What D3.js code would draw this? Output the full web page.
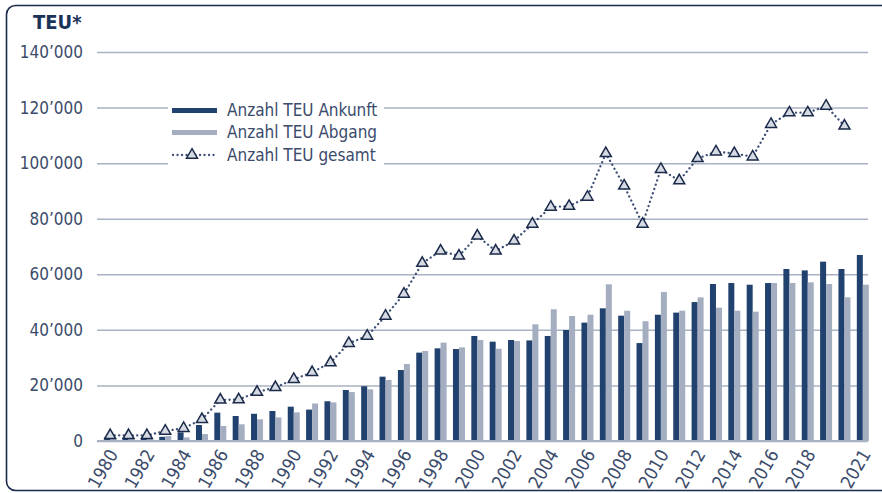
<!DOCTYPE html>
<html><head><meta charset="utf-8">
<script src="https://cdn.jsdelivr.net/npm/d3@7"></script>
<style>
html,body{margin:0;padding:0;background:#fff;}
svg{display:block;}
text{font-family:"DejaVu Sans Condensed","Liberation Sans Narrow",sans-serif;}
</style></head>
<body>
<svg id="chart" width="882" height="493"></svg>
<script>
const years = d3.range(1980, 2022);
const ankunft = [1300,1300,1300,1500,3100,5750,10200,9000,9800,10800,12350,11300,14300,18350,19700,23150,25550,31800,33350,33100,37800,35750,36350,36200,37800,39950,42600,47750,45100,35250,45450,46200,50000,56500,56850,56250,56850,61900,61400,64550,61900,66950];
const abgang = [1300,1300,1300,1800,1300,2500,5400,6000,7800,8500,10300,13500,13900,17600,18600,21950,27700,32400,35400,33700,36350,33200,36000,42000,47400,45000,45450,56400,46900,43100,53600,46900,51700,48000,46900,46550,56850,56850,57100,56500,51700,56250];
const gesamt = [2000,2000,2000,3600,4600,7800,14800,14900,17600,19300,22200,24700,28200,35150,37800,45000,52900,64000,68400,66600,73800,68400,72000,78100,84200,84500,87800,103500,91800,78100,97800,93700,101700,104100,103500,102300,114000,118150,118150,120550,113400,null];
const yTicks = [0,20000,40000,60000,80000,100000,120000,140000];
const xTickYears = [1980,1982,1984,1986,1988,1990,1992,1994,1996,1998,2000,2002,2004,2006,2008,2010,2012,2014,2016,2018,2021];
const seriesNames = ["Anzahl TEU Ankunft","Anzahl TEU Abgang","Anzahl TEU gesamt"];

const C_DARK = "#21426e", C_LIGHT = "#a4aec0", C_TEXT = "#3b4b6b", C_GRID = "#a9b2c2", C_NAVY = "#1b2a4a";

const svg = d3.select("#chart");

// frame
svg.append("rect").attr("x",6.5).attr("y",5.5).attr("width",900).attr("height",485)
  .attr("rx",9).attr("fill","none").attr("stroke",C_NAVY).attr("stroke-width",1.6);

const gridL = 97, gridR = 868;
const y = d3.scaleLinear().domain([0,140000]).range([441,52]);
const x = d3.scaleBand().domain(years).range([101,872]).padding(0);
const bw = x.bandwidth();
const cx = yr => x(yr) + bw/2;

// y axis + grid
const yAxis = svg.append("g").attr("transform",`translate(${gridL},0)`)
  .call(d3.axisLeft(y).tickValues(yTicks).tickSize(-(gridR-gridL)).tickPadding(14)
    .tickFormat(d => d === 0 ? "0" : d3.format(",")(d).replace(/,/g,"’")));
yAxis.select(".domain").remove();
yAxis.selectAll(".tick line").attr("stroke",C_GRID).attr("stroke-width",1.5);
yAxis.selectAll(".tick text").attr("fill",C_TEXT).attr("font-size",17);

// title
svg.append("text").attr("x",33).attr("y",29).text("TEU*")
  .attr("font-size",20).attr("font-weight","bold").attr("fill","#1c3358");

// bars
const gBars = svg.append("g");
gBars.selectAll("rect.a").data(years).join("rect").attr("class","a")
  .attr("x", (d) => cx(d) - 6).attr("width",6)
  .attr("y", (d,i) => y(ankunft[i])).attr("height",(d,i)=> y(0)-y(ankunft[i]))
  .attr("fill",C_DARK);
gBars.selectAll("rect.b").data(years).join("rect").attr("class","b")
  .attr("x", (d) => cx(d)).attr("width",6)
  .attr("y", (d,i) => y(abgang[i])).attr("height",(d,i)=> y(0)-y(abgang[i]))
  .attr("fill",C_LIGHT);

// baseline
svg.append("line").attr("x1",gridL).attr("x2",gridR).attr("y1",y(0)).attr("y2",y(0))
  .attr("stroke",C_GRID).attr("stroke-width",2);

// x axis
const xAxis = svg.append("g").attr("transform",`translate(0,${y(0)})`)
  .call(d3.axisBottom(x).tickValues(xTickYears).tickSize(0));
xAxis.select(".domain").remove();
xAxis.selectAll(".tick text").attr("fill",C_TEXT).attr("font-size",18)
  .attr("x",0).attr("y",0).attr("dy","0.35em").attr("text-anchor","end")
  .attr("transform","translate(3,10) rotate(-60)");

// total line
const pts = years.map((yr,i)=>({yr, v:gesamt[i]})).filter(d=>d.v!=null);
const line = d3.line().x(d=>cx(d.yr)).y(d=>y(d.v));
svg.append("path").datum(pts).attr("d",line).attr("fill","none")
  .attr("stroke","#3e5078").attr("stroke-width",2.3).attr("stroke-linecap","round")
  .attr("stroke-dasharray","0.1 4.4");
const tri = d3.symbol().type(d3.symbolTriangle).size(52);
svg.selectAll("path.m").data(pts).join("path").attr("class","m")
  .attr("d",tri).attr("transform",d=>`translate(${cx(d.yr)},${y(d.v)})`)
  .attr("fill","#d6dbe3").attr("stroke",C_NAVY).attr("stroke-width",1.5);

// legend
const lg = svg.append("g");
lg.append("rect").attr("x",168).attr("y",99).attr("width",216).attr("height",67).attr("fill","#fff");
const rowsY = [110.5,132.5,155];
lg.append("rect").attr("x",172).attr("y",rowsY[0]-2.5).attr("width",45).attr("height",5).attr("fill",C_DARK);
lg.append("rect").attr("x",172).attr("y",rowsY[1]-2.5).attr("width",45).attr("height",5).attr("fill",C_LIGHT);
lg.append("line").attr("x1",173).attr("x2",216).attr("y1",rowsY[2]).attr("y2",rowsY[2])
  .attr("stroke","#3e5078").attr("stroke-width",2.3).attr("stroke-linecap","round").attr("stroke-dasharray","0.1 4.4");
lg.append("path").attr("d",tri).attr("transform",`translate(192,${rowsY[2]})`)
  .attr("fill","#d6dbe3").attr("stroke",C_NAVY).attr("stroke-width",1.5);
lg.selectAll("text").data(seriesNames).join("text")
  .attr("x",227).attr("y",(d,i)=>rowsY[i]).attr("dy","0.35em")
  .attr("font-size",17).attr("fill",C_TEXT).text(d=>d);
</script>
</body></html>
